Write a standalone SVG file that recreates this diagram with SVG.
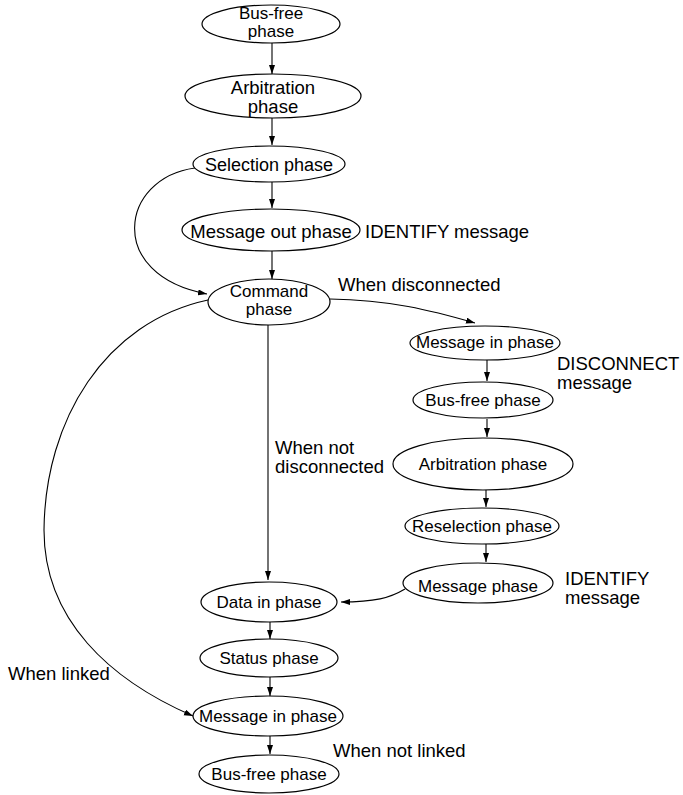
<svg xmlns="http://www.w3.org/2000/svg" width="683" height="795" viewBox="0 0 683 795">
<style>
  .n ellipse { fill: #fff; stroke: #000; stroke-width: 1.2; }
  text { font-family: "Liberation Sans", Arial, sans-serif; fill: #000; }
  .t { font-size: 17px; text-anchor: middle; }
  .lb { font-size: 18.5px; }
  .c path { fill: none; stroke: #000; stroke-width: 1.1; marker-end: url(#ah); }
</style>
<defs>
  <marker id="ah" markerWidth="10" markerHeight="7" refX="9" refY="3" orient="auto" markerUnits="userSpaceOnUse">
    <path d="M0,0 L9,3 L0,6 z" fill="#000"/>
  </marker>
</defs>
<rect width="683" height="795" fill="#fff"/>
<g id="connectors" class="c">
  <path d="M272 43 V74"/>
  <path d="M272 118 V145"/>
  <path d="M272 182 V208"/>
  <path d="M272 251 V279"/>
  <path d="M268 325 V580"/>
  <path d="M270 622 V639"/>
  <path d="M270 677 V696"/>
  <path d="M270 736 V754"/>
  <path d="M487 360 V381"/>
  <path d="M487 419 V437"/>
  <path d="M486 490 V507"/>
  <path d="M486 544 V562"/>
  <path d="M195 168 C120 178, 105 275, 207 294"/>
  <path d="M330 299 C390 300, 430 310, 475 323"/>
  <path d="M208 300 C105 322, 45 420, 44 530 C44 620, 110 680, 193 716"/>
  <path d="M405 589 C390 598, 375 602, 341 602"/>
</g>
<g id="busfree1" class="n"><ellipse cx="271" cy="24" rx="69" ry="19"/><text class="t" x="271" y="19">Bus-free</text><text class="t" x="271" y="37">phase</text></g>
<g id="arbitration1" class="n"><ellipse cx="273" cy="96" rx="88" ry="22"/><text class="t" style="font-size:18.5px" x="273" y="94">Arbitration</text><text class="t" style="font-size:18.5px" x="273" y="113">phase</text></g>
<g id="selection" class="n"><ellipse cx="269" cy="164" rx="76" ry="18"/><text class="t" style="font-size:18px" x="269" y="171">Selection phase</text></g>
<g id="msgout" class="n"><ellipse cx="271" cy="230" rx="89" ry="21"/><text class="t" style="font-size:18.5px" x="271" y="238">Message out phase</text></g>
<g id="command" class="n"><ellipse cx="269" cy="302" rx="61" ry="23"/><text class="t" x="269" y="297">Command</text><text class="t" x="269" y="315">phase</text></g>
<g id="msgin1" class="n"><ellipse cx="485" cy="343" rx="75" ry="17"/><text class="t" x="485" y="348">Message in phase</text></g>
<g id="busfree2" class="n"><ellipse cx="483" cy="400" rx="70" ry="18"/><text class="t" x="483" y="406">Bus-free phase</text></g>
<g id="arbitration2" class="n"><ellipse cx="483" cy="464" rx="90" ry="26"/><text class="t" x="483" y="470">Arbitration phase</text></g>
<g id="reselection" class="n"><ellipse cx="482" cy="526" rx="77" ry="18"/><text class="t" x="482" y="532">Reselection phase</text></g>
<g id="msgphase" class="n"><ellipse cx="478" cy="583" rx="75" ry="20"/><text class="t" x="478" y="592">Message phase</text></g>
<g id="datain" class="n"><ellipse cx="269" cy="602" rx="68" ry="20"/><text class="t" x="269" y="608">Data in phase</text></g>
<g id="status" class="n"><ellipse cx="269" cy="658" rx="69" ry="19"/><text class="t" x="269" y="664">Status phase</text></g>
<g id="msgin2" class="n"><ellipse cx="268" cy="716" rx="75" ry="20"/><text class="t" x="268" y="722">Message in phase</text></g>
<g id="busfree3" class="n"><ellipse cx="269" cy="774" rx="70" ry="19"/><text class="t" x="269" y="780">Bus-free phase</text></g>
<g id="labels">
  <text class="lb" x="365" y="238">IDENTIFY message</text>
  <text class="lb" x="338" y="291">When disconnected</text>
  <text class="lb" x="557" y="370">DISCONNECT</text>
  <text class="lb" x="557" y="389">message</text>
  <text class="lb" x="275" y="454">When not</text>
  <text class="lb" x="275" y="473">disconnected</text>
  <text class="lb" x="565" y="585">IDENTIFY</text>
  <text class="lb" x="565" y="604">message</text>
  <text class="lb" x="8" y="680">When linked</text>
  <text class="lb" x="333" y="757">When not linked</text>
</g>
</svg>
